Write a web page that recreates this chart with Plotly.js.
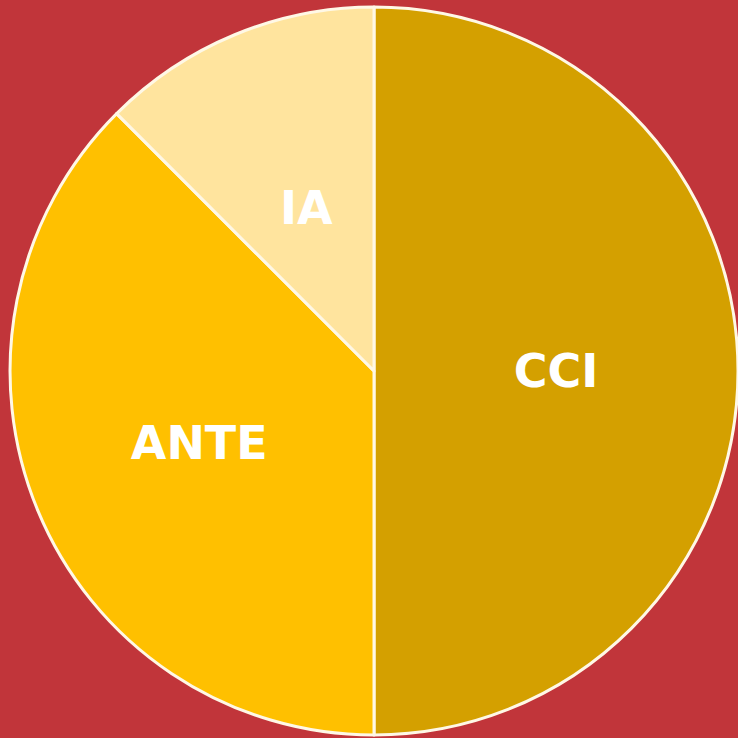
<!DOCTYPE html>
<html>
<head>
<meta charset="utf-8">
<script src="https://cdn.plot.ly/plotly-3.0.1.min.js"></script>
<style>
html,body{margin:0;padding:0;background:#C1353A;}
#chart{width:738px;height:738px;}
</style>
</head>
<body>
<div id="chart"></div>
<script>
const labels = ["CCI", "ANTE", "IA"];
const values = [50, 37.5, 12.5];
const colors = ["#D4A000", "#FFC000", "#FFE49E"];

const W = 738;
const dom = {x: [0.0136, 1], y: [0.004, 0.9905]};
const font = {family: "'DejaVu Sans', sans-serif", size: 46, color: "#FFFFFF", weight: "bold"};

// IA label sits closer to the centre than Plotly's automatic placement
const total = values.reduce((a, b) => a + b, 0);
let cum = 0;
const mids = values.map(v => { const m = (cum + v / 2) / total; cum += v; return m; });
const cx = (dom.x[0] + dom.x[1]) / 2, cy = (dom.y[0] + dom.y[1]) / 2;
const R = (dom.x[1] - dom.x[0]) / 2;
const theta = mids[2] * 2 * Math.PI;
const rf = 0.485;

Plotly.newPlot("chart", [{
  type: "pie",
  labels: labels,
  values: values,
  text: labels.map((l, i) => i === 2 ? "" : l),
  sort: false,
  direction: "clockwise",
  rotation: 0,
  marker: {colors: colors, line: {color: "#FFF8E6", width: 3}},
  textinfo: "text",
  textposition: "inside",
  insidetextorientation: "horizontal",
  textfont: font,
  hoverinfo: "none",
  domain: dom
}], {
  width: W, height: W,
  margin: {l: 0, r: 0, t: 0, b: 0},
  paper_bgcolor: "#C1353A",
  showlegend: false,
  annotations: [{
    xref: "paper", yref: "paper",
    x: cx + rf * R * Math.sin(theta),
    y: cy + rf * R * Math.cos(theta),
    text: labels[2], showarrow: false, font: font,
    xanchor: "center", yanchor: "middle"
  }]
}, {displayModeBar: false, staticPlot: true});
</script>
</body>
</html>
